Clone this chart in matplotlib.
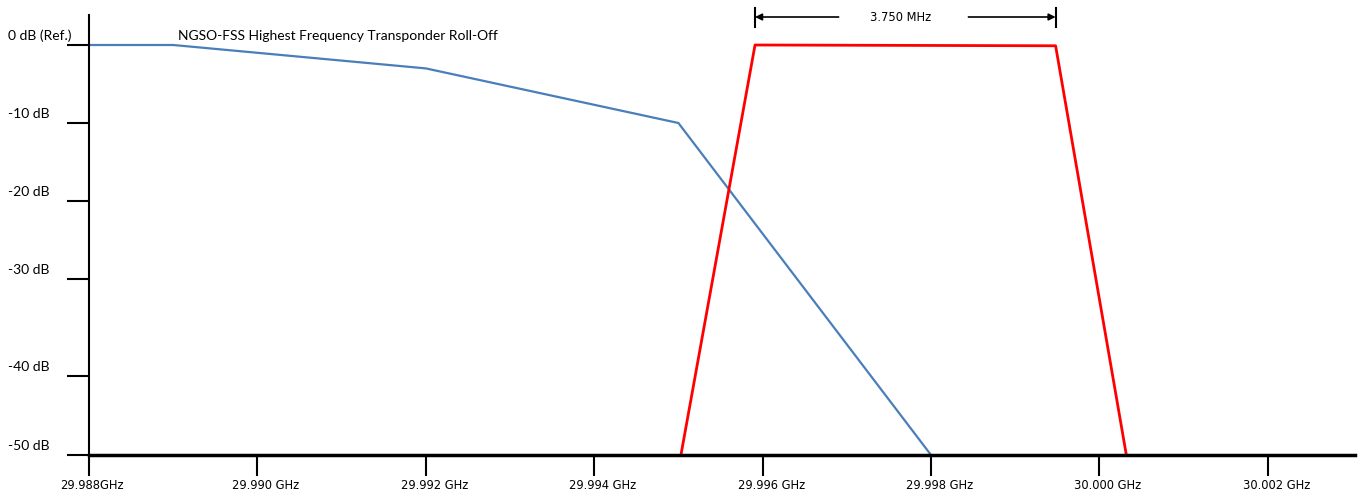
import numpy as np
import matplotlib
matplotlib.use("Agg")
import matplotlib.pyplot as plt

# roll-off mask of the highest NGSO-FSS transponder (GHz, dB)
blue_f = [29.988, 29.989, 29.992, 29.995, 29.998]
blue_db = [0, 0, -3, -10, -50]

# carrier mask (GHz, dB)
red_f = [29.99503, 29.99591, 29.99948, 30.00032]
red_db = [-50, 0, -0.1, -50]

x_ticks = [29.988, 29.990, 29.992, 29.994, 29.996, 29.998, 30.000, 30.002]
x_labels = ["29.988GHz", "29.990 GHz", "29.992 GHz", "29.994 GHz",
            "29.996 GHz", "29.998 GHz", "30.000 GHz", "30.002 GHz"]
y_ticks = [0, -10, -20, -30, -40, -50]
y_labels = ["0 dB (Ref.)", "-10 dB", "-20 dB", "-30 dB", "-40 dB", "-50 dB"]

bw_lo, bw_hi = 29.99591, 29.99948
bw_label = "3.750 MHz"
title = "NGSO-FSS Highest Frequency Transponder Roll-Off"

# the dB axis in the original is not evenly spaced, map it piecewise
scale_db = [-50, -40, -30, -20, -10, 0, 10]
scale_pos = [-455, -376, -279, -201, -123, -45, 33]


def fwd(v):
    return np.interp(v, scale_db, scale_pos)


def inv(p):
    return np.interp(p, scale_pos, scale_db)


W, H = 1359, 495
fig = plt.figure(figsize=(W / 100, H / 100), dpi=100)
ax = fig.add_axes([89 / W, (H - 455) / H, (1355 - 89) / W, (455 - 15) / H])
ax.set_yscale("function", functions=(fwd, inv))

ax.plot(blue_f, blue_db, color="#4a7ebb", lw=1.6, clip_on=False)
ax.plot(red_f, red_db, color="#ff0000", lw=2.0, clip_on=False)

ax.set_xlim(29.988, 29.988 + (1355 - 89) / 84.2 / 1000)
ax.set_ylim(-50, inv(-15))

for s in ["top", "right"]:
    ax.spines[s].set_visible(False)
ax.spines["left"].set_linewidth(1.5)
ax.spines["bottom"].set_linewidth(2.5)

ax.set_xticks(x_ticks)
ax.set_xticklabels([])
ax.set_yticks(y_ticks)
ax.set_yticklabels([])
ax.tick_params(axis="y", direction="out", length=16, width=1.5)
ax.tick_params(axis="x", direction="out", length=15, width=1.5)
ax.minorticks_off()

for v, lab in zip(y_ticks, y_labels):
    ax.annotate(lab, xy=(0, v), xycoords=("axes fraction", "data"),
                xytext=(-81, 5), textcoords="offset pixels",
                ha="left", va="baseline", fontsize=10, family="Lato")

for i, (v, lab) in enumerate(zip(x_ticks, x_labels)):
    dx = -29 if i == 0 else -25
    ax.annotate(lab, xy=(v, 0), xycoords=("data", "axes fraction"),
                xytext=(dx, -34), textcoords="offset pixels",
                ha="left", va="baseline", fontsize=8.3, family="DejaVu Sans")

fig.text(178 / W, 1 - 40 / H, title, ha="left", va="baseline",
         fontsize=10, family="Lato")

# bandwidth arrow above the carrier
y_arr = inv(-17)
ax.annotate("", xy=(bw_hi, y_arr), xytext=(bw_lo, y_arr),
            arrowprops=dict(arrowstyle="<|-|>", color="black", lw=1.2,
                            shrinkA=0, shrinkB=0, mutation_scale=10),
            annotation_clip=False)
for f in (bw_lo, bw_hi):
    ax.plot([f, f], [inv(-8), inv(-27)], color="black", lw=1.5, clip_on=False)
# white gap in the arrow line, like the original text box
ax.plot([29.988 + (842 - 89) / 84.2 / 1000, 29.988 + (965 - 89) / 84.2 / 1000],
        [y_arr, y_arr], color="white", lw=4, clip_on=False, zorder=3)
ax.annotate(bw_label, xy=(bw_lo, y_arr), xycoords="data",
            xytext=(870 - 755, 0), textcoords="offset pixels",
            ha="left", va="center", fontsize=8.3, family="DejaVu Sans",
            zorder=4, annotation_clip=False)

fig.savefig("out.png", dpi=100)
